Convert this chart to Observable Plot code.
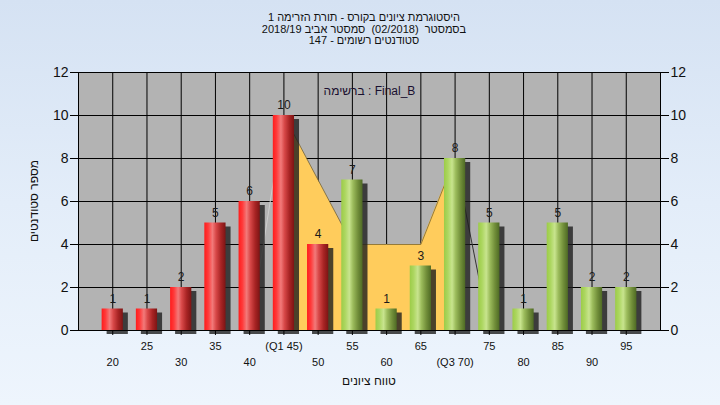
<!DOCTYPE html>
<html><head><meta charset="utf-8">
<script src="https://cdn.jsdelivr.net/npm/d3@7"></script>
<script src="https://cdn.jsdelivr.net/npm/@observablehq/plot@0.6"></script>
<style>
html,body{margin:0;padding:0;}
#wrap{position:relative;width:720px;height:405px;overflow:hidden;
  background:linear-gradient(180deg,#d5e2f3 0%,#e3edf9 50%,#eef5fd 100%);
  font-family:"Liberation Sans",Arial,sans-serif;color:#111;}
#title{height:52px;box-sizing:border-box;padding-top:12px;padding-left:8px;text-align:center;
  font-size:11px;line-height:11.7px;white-space:pre;}
#xt{position:absolute;left:0;width:738px;top:374px;text-align:center;font-size:12px;white-space:pre;}
#yt{position:absolute;left:34px;top:201px;transform:translate(-50%,-50%) rotate(-90deg);font-size:12px;white-space:pre;}
#chart svg{display:block;}
</style></head><body>
<div id="wrap"><div id="title"></div><div id="chart"></div><div id="xt" dir="rtl"></div><div id="yt" dir="rtl"></div></div>
<script>
// ---- data ----
const titleLines = ["היסטוגרמת ציונים בקורס - תורת הזרימה 1", "בסמסטר  (02/2018)  סמסטר אביב 2018/19", "סטודנטים רשומים - 147"];
const xTitle = "טווח ציונים";
const yTitle = "מספר סטודנטים";
const legendText = "ברשימה : Final_B";
const grades = [20,25,30,35,40,45,50,55,60,65,70,75,80,85,90,95];
const counts = [1,1,2,5,6,10,4,7,1,3,8,5,1,5,2,2];
const tickLabels = ["20","25","30","35","40","(Q1 45)","50","55","60","65","(Q3 70)","75","80","85","90","95"];
const yTicks = [0,2,4,6,8,10,12];
const areaGrades = [45,55,60,65,70];
const areaCounts = [10,4,4,4,8];
const leftEdgeGrades = [40,45];
const leftEdgeCounts = [0,10];
const rightEdgeGrades = [70,75];
const rightEdgeCounts = [8,0];

// ---- text ----
const titleEl = document.getElementById("title");
titleLines.forEach(t => { const d = document.createElement("div"); d.dir = "rtl"; d.textContent = t; titleEl.appendChild(d); });
document.getElementById("xt").textContent = xTitle;
document.getElementById("yt").textContent = yTitle;

const bars = grades.map((g, i) => ({g, c: counts[i], red: g <= 50}));
const area = areaGrades.map((g, i) => ({g, c: areaCounts[i]}));
const leftEdge = leftEdgeGrades.map((g, i) => ({g, c: leftEdgeCounts[i]}));
const rightEdge = rightEdgeGrades.map((g, i) => ({g, c: rightEdgeCounts[i]}));
const labelOf = new Map(grades.map((g, i) => [g, tickLabels[i]]));
const oddG = grades.filter(g => g % 10 === 5);
const evenG = grades.filter(g => g % 10 === 0);
const hw = 1.55;

const plot = Plot.plot({
  width: 720, height: 353,
  marginTop: 20, marginBottom: 75, marginLeft: 78, marginRight: 60,
  style: {background: "transparent", fontFamily: "Liberation Sans, Arial, sans-serif", color: "#111", overflow: "visible"},
  x: {domain: [15, 100]},
  y: {domain: [0, 12]},
  marks: [
    Plot.frame({fill: "#b3b3b3"}),
    Plot.ruleX(grades, {stroke: "#000", strokeWidth: 1}),
    Plot.ruleY([2, 4, 6, 8, 10], {stroke: "#000", strokeWidth: 1}),
    Plot.areaY(area, {x: "g", y: "c", fill: "#ffcc5c"}),
    Plot.line(area, {x: "g", y: "c", stroke: "#7a6430", strokeWidth: 0.8}),
    Plot.line(leftEdge, {x: "g", y: "c", stroke: "#cdcdcd", strokeWidth: 1}),
    Plot.line(rightEdge, {x: "g", y: "c", stroke: "#333", strokeWidth: 1}),
    Plot.rect(bars, {x1: d => d.g - hw, x2: d => d.g + hw, y1: 0, y2: "c", dx: 5, dy: 4,
      fill: "#1e1e1e", fillOpacity: 0.8, ariaLabel: "shadow"}),
    Plot.rect(bars.filter(d => d.red), {x1: d => d.g - hw, x2: d => d.g + hw, y1: 0, y2: "c", fill: "url(#gRed)"}),
    Plot.rect(bars.filter(d => !d.red), {x1: d => d.g - hw, x2: d => d.g + hw, y1: 0, y2: "c", fill: "url(#gGreen)"}),
    Plot.text(bars, {x: "g", y: "c", text: d => String(d.c), dy: -10, fontSize: 12, fill: "#1a1a1a"}),
    Plot.text([legendText], {frameAnchor: "top", dy: 14, fontSize: 12, fill: "#1a1030"}),
    Plot.axisY(yTicks, {anchor: "left", tickSize: 8, tickPadding: 2, fontSize: 14, label: null, stroke: "#000", fill: "#111"}),
    Plot.axisY(yTicks, {anchor: "right", tickSize: 8, tickPadding: 2, fontSize: 14, label: null, stroke: "#000", fill: "#111"}),
    Plot.axisX(oddG, {anchor: "bottom", tickSize: 5, tickPadding: 7, fontSize: 11, label: null,
      tickFormat: d => labelOf.get(d), stroke: "#000", fill: "#111"}),
    Plot.axisX(evenG, {anchor: "bottom", tickSize: 5, tickPadding: 23, fontSize: 11, label: null,
      tickFormat: d => labelOf.get(d), stroke: "#000", fill: "#111"}),
    Plot.frame({stroke: "#000", strokeWidth: 1})
  ]
});

// gradients and shadow filter
const svg = d3.select(plot);
const defs = svg.insert("defs", ":first-child");
function grad(id, stops) {
  const g = defs.append("linearGradient").attr("id", id).attr("x1", "0").attr("x2", "1").attr("y1", "0").attr("y2", "0");
  stops.forEach(([o, c]) => g.append("stop").attr("offset", o).attr("stop-color", c));
}
grad("gRed", [[0, "#ff1c1c"], [0.18, "#ff3a3a"], [0.38, "#f27a7a"], [0.55, "#d84848"], [0.78, "#a82424"], [1, "#7c1414"]]);
grad("gGreen", [[0, "#9ccc48"], [0.18, "#acd660"], [0.38, "#c8e48e"], [0.55, "#9cbc5c"], [0.78, "#728f3a"], [1, "#4e6a24"]]);
const f = defs.append("filter").attr("id", "blur").attr("x", "-50%").attr("y", "-20%").attr("width", "200%").attr("height", "140%");
f.append("feGaussianBlur").attr("stdDeviation", 2.8);
svg.select('g[aria-label="shadow"]').attr("filter", "url(#blur)");

document.getElementById("chart").appendChild(plot);
</script>
</body></html>
